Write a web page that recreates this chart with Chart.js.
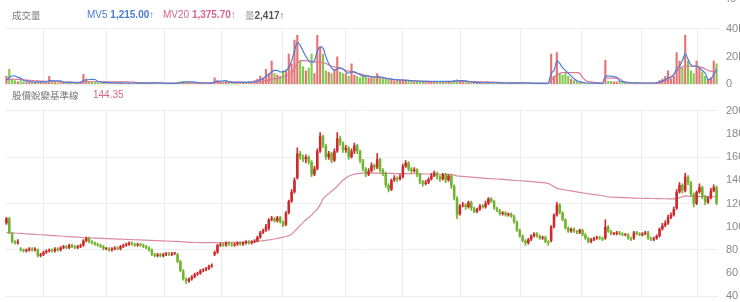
<!DOCTYPE html>
<html>
<head>
<meta charset="utf-8">
<script src="https://cdn.jsdelivr.net/npm/chart.js@4.4.1/dist/chart.umd.min.js"></script>
<style>
  body { margin: 0; background: #fff; width: 740px; height: 302px; overflow: hidden; position: relative;
         font-family: "Liberation Sans", "Noto Sans CJK TC", sans-serif; }
  .t { position: absolute; font-size: 10px; white-space: nowrap; line-height: 12px; z-index: 2; }
  .cjk { font-family: "Noto Sans CJK TC", sans-serif; font-size: 9.5px; }
  #volWrap { position: absolute; left: 0; top: 14px; width: 740px; height: 85px; }
  #priceWrap { position: absolute; left: 0; top: 96px; width: 740px; height: 215px; }
</style>
</head>
<body>
<div class="t" style="left:724px;top:-8px;color:#8a8a8a;font-size:11px">40</div>
<div class="t cjk" style="left:12px;top:9px;color:#777">成交量</div>
<div class="t" style="left:87px;top:9px;color:#4a7bd4">MV5 <b>1,215.00</b>↑</div>
<div class="t" style="left:163px;top:9px;color:#d4678a">MV20 <b>1,375.70</b>↑</div>
<div class="t" style="left:245px;top:9px;color:#555"><span class="cjk" style="color:#999">量</span><b>2,417</b>↑</div>
<div class="t cjk" style="left:12px;top:89px;color:#777">股價蛻變基準線</div>
<div class="t" style="left:93px;top:89px;color:#d4678a">144.35</div>

<div id="volWrap"><canvas id="vol"></canvas></div>
<div id="priceWrap"><canvas id="price"></canvas></div>

<script>
// daily candles, oldest first
const opens = [
  103,107,94,87,86,81,80,79,80,81, 80,80,75,76,78,79,80,79,81,80,
  82,83,82,84,83,82,83,84,88,90, 87,86,85,84,83,81,81,80,81,82,
  81,83,84,85,86,85,84,85,84,83, 82,80,76,75,76,75,76,77,76,77,
  76,70,62,55,53,55,57,59,60,62, 63,64,66,76,78,84,85,84,86,85,
  84,85,86,85,86,87,86,87,88,91, 95,97,99,106,107,105,108,104,102,112,
  122,130,142,163,160,158,160,156,145,150, 165,178,170,160,163,157,165,176,172,166,
  168,160,165,170,165,157,150,145,148,153, 151,158,149,146,136,132,140,142,141,143,
  152,155,150,148,149,145,139,137,138,141, 144,146,143,141,145,140,144,135,125,111,
  118,119,117,121,116,113,115,118,117,120, 124,122,116,114,111,112,110,111,109,104,
  97,92,88,86,89,92,94,92,90,91, 87,88,100,110,119,112,106,99,96,98,
  96,95,97,93,90,87,89,90,91,90, 90,100,96,94,94,95,94,93,93,90,
  90,95,94,93,94,95,90,89,90,92, 98,101,103,108,110,116,130,136,131,143,
  138,128,120,130,134,126,121,125,131,134
];
const closes = [
  107,95,87,86,87,80,79,80,81,80, 81,75,76,78,79,80,79,81,80,82,
  83,82,84,83,82,83,84,88,90,87, 86,85,84,83,81,81,80,81,82,81,
  83,84,85,86,85,84,85,84,83,82, 80,76,75,76,75,76,77,76,77,77,
  70,62,55,53,55,57,59,60,62,63, 64,66,67,78,84,85,84,86,85,84,
  85,86,85,86,87,86,87,88,91,95, 97,100,106,107,105,108,104,101,112,122,
  130,140,163,160,158,160,156,145,150,165, 178,170,160,163,157,165,176,172,166,168,
  160,165,170,165,157,150,145,148,153,151, 158,149,146,136,132,140,142,141,143,152,
  155,150,148,149,145,139,137,138,141,144, 146,143,141,145,140,144,135,125,110,118,
  119,117,121,116,113,115,118,117,120,124, 122,116,114,111,112,110,111,109,104,97,
  92,88,86,89,92,94,92,90,91,87, 86,100,110,119,112,106,99,96,98,96,
  95,97,93,90,87,89,90,91,90,89, 100,96,94,94,95,94,93,93,90,89,
  95,94,93,94,95,90,89,90,92,98, 101,103,108,110,115,130,136,131,143,138,
  128,120,130,134,126,121,125,131,134,120
];
const highs = [
  108,108,95,88,89,82,81,81,82,82, 82,81,77,79,80,81,81,82,82,83,
  84,84,85,85,84,84,85,89,91,91, 88,87,86,85,84,82,82,82,83,83,
  84,85,86,87,87,86,86,86,85,84, 83,81,77,77,77,77,78,78,78,78,
  77,71,63,56,56,58,60,61,63,64, 65,67,68,79,85,86,86,87,87,86,
  86,87,87,87,88,88,88,89,92,96, 98,102,107,109,108,109,109,105,113,123,
  132,142,168,165,162,162,161,157,152,167, 181,179,171,165,164,167,181,178,173,170,
  169,167,172,171,166,158,151,150,155,154, 163,159,150,147,137,141,144,143,145,154,
  157,156,151,151,150,146,140,140,142,146, 148,147,144,146,146,145,145,136,126,119,
  121,120,122,122,117,116,119,119,122,125, 125,123,117,115,113,113,112,112,110,105,
  98,93,89,90,93,95,95,93,92,92, 88,101,111,121,120,113,107,100,99,99,
  97,98,98,94,91,90,91,92,92,91, 106,101,97,95,96,96,95,94,94,91,
  96,96,95,95,96,96,91,91,93,99, 103,105,110,112,117,132,138,137,146,144,
  139,129,131,137,135,127,126,133,136,135
];
const lows = [
  102,94,86,85,85,79,78,78,79,79, 79,74,74,75,77,78,78,78,79,79,
  81,81,81,82,81,81,82,83,87,86, 85,84,83,82,80,80,79,79,80,80,
  80,82,83,84,84,83,83,83,82,81, 79,75,74,74,74,74,75,75,75,76,
  69,61,54,51,52,54,56,58,59,61, 62,63,65,75,77,83,83,83,84,83,
  83,84,84,84,85,85,85,86,87,90, 94,96,97,105,104,104,103,100,101,111,
  121,129,141,158,156,155,154,143,144,149, 164,168,158,158,155,156,164,170,164,164,
  158,159,163,163,155,148,143,144,147,149, 150,147,144,134,130,131,139,139,140,142,
  151,148,146,147,143,137,135,136,137,140, 143,141,139,140,138,139,133,123,107,110,
  117,115,116,114,112,112,114,116,116,119, 121,115,113,110,110,109,109,108,103,96,
  91,87,84,85,88,91,91,89,89,86, 84,87,99,109,111,105,98,95,95,95,
  94,94,92,89,86,86,88,89,89,88, 89,95,93,93,93,93,92,92,89,88,
  89,93,92,92,93,89,88,88,89,91, 97,100,102,107,109,115,129,129,130,136,
  126,117,119,129,124,119,120,124,130,119
];
// 股價蛻變基準線
const baseLine = [
  95.0,94.9,94.7,94.5,94.4,94.2,94.0,93.9,93.7,93.6, 93.4,93.2,93.1,92.9,92.8,92.6,92.4,92.3,92.1,92.0,
  91.8,91.6,91.5,91.3,91.2,91.0,90.8,90.7,90.5,90.4, 90.3,90.2,90.1,90.0,89.9,89.8,89.7,89.6,89.5,89.4,
  89.3,89.2,89.1,89.0,88.9,88.8,88.7,88.6,88.5,88.4, 88.3,88.2,88.1,88.0,87.9,87.8,87.7,87.6,87.5,87.4,
  87.3,87.2,87.0,86.8,86.6,86.5,86.4,86.4,86.3,86.3, 86.3,86.3,86.3,86.3,86.4,86.4,86.4,86.4,86.5,86.5,
  86.5,86.5,86.6,86.6,86.7,86.8,86.9,87.1,87.4,87.7, 88.0,88.3,88.6,89.0,89.4,89.9,90.4,91.0,91.6,92.3,
  93.5,96.0,98.5,101.0,103.5,106.0,108.0,110.0,113.0,115.0, 119.0,124.0,126.5,128.5,130.5,132.5,135.0,137.5,140.0,142.0,
  143.5,144.5,145.3,145.8,146.0,146.1,146.2,146.2,146.2,146.1, 146.1,146.0,146.0,146.0,145.9,145.9,145.8,145.8,145.8,145.7,
  145.7,145.7,145.6,145.6,145.5,145.5,145.5,145.4,145.4,145.3, 145.3,145.3,145.2,145.2,145.2,145.1,145.0,144.5,143.8,143.5,
  143.3,143.1,142.9,142.7,142.5,142.3,142.1,141.9,141.7,141.5, 141.3,141.2,141.1,141.0,140.8,140.6,140.4,140.2,140.0,139.8,
  139.6,139.4,139.2,139.0,138.8,138.6,138.4,138.2,138.0,137.7, 137.3,136.0,134.5,133.0,132.5,132.0,131.6,131.2,130.8,130.4,
  130.0,129.6,129.2,128.8,128.4,128.0,127.7,127.4,127.1,126.9, 126.0,125.6,125.5,125.4,125.3,125.2,125.1,125.0,124.9,124.8,
  124.7,124.6,124.5,124.5,124.4,124.4,124.3,124.3,124.2,124.2, 124.1,124.1,124.0,124.0,124.0,124.0,125.0,126.0,126.5,126.3,
  126.2,126.1,126.0,126.0,126.0,125.9,125.9,125.8,125.8,125.8
];
// volume in thousands
const volumes = [
  6,11,4,3,2,3,2,2,1.5,1.5, 1.5,2.5,2,1.5,1.5,6,2,1.5,1.5,1.5,
  1.5,1.2,1.5,1.2,1.2,1.5,2,7.5,4,2.5, 2,1.5,1.5,1.2,1.5,1.2,1,1,1.2,1,
  1,1,1.2,1,1,0.8,0.8,1,0.8,1, 1.2,1.5,1,0.8,0.8,0.8,0.8,0.8,0.8,1,
  1.5,2,2.5,2,1.5,1.2,1,1,1,1, 1,1,1.2,5,3,2,1.5,2,1.5,1.2,
  1.2,1.5,1.2,1.5,1.5,2,1.5,3,4,6, 5,11,8,17,8,7,6,10,10,22,
  15,32,35.5,17,13,10,12,22,8,35.5, 27,22,10,9,8,11,20,9,8,8,
  6,15,7,6,5,7,6,5,6,5, 8,5,4,4,3.5,4,3,3,3,3.5,
  3,2.5,2.5,2,2.5,2,2,2.5,2,2, 2,2.5,2,2.5,2,2,2.5,3,3.5,2.5,
  2,1.5,1.5,1.2,1.2,1.5,1.2,1,1.2,1.5, 1.2,1,1,1,1,0.8,0.8,1,1.2,1.5,
  1,1,0.8,0.8,0.8,0.8,0.8,0.8,0.8,1, 1,22,6,23,8,7,8,6,4,3,
  2,1.5,1.2,1,1,0.8,0.8,0.8,0.8,1, 17.5,2.5,2.5,2,2,2.5,1.5,1.2,1,1,
  1.2,1,1,1,1,1,0.8,1,1.5,3, 4,6,10,4,6,23,17,12,35.5,17,
  10,8,17,12,9,6,4,5,17,15
];
const mv5 = [
  3,5,6,6,5,4.5,3,2.5,2,1.8, 1.7,1.8,1.8,1.8,1.8,2.7,2.6,2.6,2.6,2.5,
  1.6,1.5,1.5,1.4,1.3,1.3,1.5,2.7,3.2,3.5, 3.6,3.5,2.3,1.8,1.5,1.4,1.3,1.2,1.2,1.1,
  1.1,1.0,1.0,1.0,1.0,1.0,0.9,0.9,0.9,0.9, 1.0,1.1,1.1,1.1,1.1,1.0,0.8,0.8,0.8,0.8,
  1.0,1.2,1.6,1.8,1.9,1.8,1.6,1.3,1.1,1.0, 1.0,1.0,1.0,1.8,2.2,2.4,2.5,2.7,2.0,1.6,
  1.5,1.5,1.4,1.4,1.4,1.6,1.6,1.9,2.5,3.4, 4,6,7,9,10,10,9,9,10,12,
  17,24,30,28,24,20,17,16,17,24, 27,26,20,15,12,10,11,12,11,9,
  8,9,9,8,7,6,6,6,5.5,5.5, 5.5,5.5,5,4.5,4,3.8,3.5,3.3,3.2,3.1,
  3.0,2.9,2.7,2.5,2.4,2.3,2.2,2.2,2.2,2.1, 2.1,2.1,2.1,2.2,2.2,2.2,2.2,2.4,2.6,2.7,
  2.7,2.5,2.2,1.7,1.4,1.4,1.3,1.2,1.2,1.3, 1.2,1.2,1.2,1.1,1.0,1.0,0.9,0.9,0.9,1.1,
  1.1,1.1,1.1,1.0,0.9,0.8,0.8,0.8,0.8,0.8, 0.9,8,10,17,15,12,10,8,6,4,
  2.5,2,1.5,1.2,1,1,0.9,0.9,0.8,0.8, 6,6,6,5.5,5,2.5,2,1.6,1.4,1.2,
  1.2,1.1,1.0,1.0,1.0,1.0,1.0,1.0,1.1,1.6, 2.5,3.5,4.5,5.5,7,11,13,17,22,18,
  14,13,13,12,10,8,3.5,4,7,11
];
const mv20 = [
  3.5,3.6,3.7,3.7,3.6,3.5,3.3,3.1,2.9,2.8, 2.6,2.5,2.4,2.3,2.2,2.3,2.3,2.2,2.1,2.0,
  1.8,1.6,1.6,1.6,1.5,1.5,1.5,1.8,1.9,1.9, 1.9,1.9,1.9,1.9,1.9,1.9,1.8,1.8,1.8,1.8,
  1.8,1.8,1.8,1.7,1.7,1.5,1.3,1.3,1.2,1.1, 1.0,1.0,1.0,1.0,1.0,1.0,1.0,1.0,0.9,0.9,
  1.0,1.0,1.1,1.2,1.2,1.2,1.2,1.2,1.2,1.2, 1.2,1.2,1.2,1.4,1.5,1.5,1.6,1.6,1.6,1.6,
  1.6,1.6,1.6,1.6,1.5,1.6,1.6,1.7,1.8,2.0, 2.2,2.6,3,3.6,4,4.4,4.8,5.5,6,7,
  8,11,15,17,17,17,16.5,16.5,16,16, 16,15.5,15,14,13,12.5,12,11.5,11,10,
  9.5,9,8.5,8,7.5,7,6.5,6,5.5,5.2, 5,4.7,4.4,4.2,4,3.8,3.5,3.3,3.1,3.0,
  2.9,2.8,2.7,2.6,2.5,2.4,2.3,2.2,2.1,2.0, 2.0,2.0,2.0,2.0,2.0,2.0,2.0,2.0,2.1,2.1,
  2.1,2.1,2.0,2.0,2.0,1.9,1.9,1.8,1.8,1.7, 1.7,1.6,1.5,1.4,1.3,1.2,1.2,1.1,1.1,1.1,
  1.1,1.0,1.0,1.0,1.0,1.0,1.0,1.0,1.0,1.0, 1.0,3,5,7,8,8.5,8.5,8.5,8.5,8.5,
  8.5,8,5,3,2,1.8,1.5,1.3,1.2,1.1, 4.5,4.5,4.5,4.5,4.3,4,2.5,1.5,1.2,1.0,
  1.0,1.0,1.0,1.0,1.0,1.0,1.0,1.0,1.2,1.5, 2,2.5,3.5,5,7,9,11,12.5,13,13,
  13,13,13,12.5,12,11,10,9.5,9,8.5
];
// month boundaries (candle index) for the vertical grid
const monthTicks = [2, 24, 46, 65, 85.5, 108, 129.5, 148.5, 170, 190.5, 213, 232.5];
const volTicks = [0, 20, 40];
const priceTicks = [40, 60, 80, 100, 120, 140, 160, 180, 200];

const N = closes.length;
const idx = closes.map((_, i) => i);
const UP = '#cc2a2d', DOWN = '#72b330';
const candleColor = idx.map(i => closes[i] >= opens[i] ? UP : DOWN);
const volColor = idx.map(i => closes[i] >= opens[i] ? 'rgba(222,80,80,0.8)' : 'rgba(110,190,50,0.85)');

function xScale() {
  return {
    type: 'linear', min: -0.5, max: N - 0.5, offset: false,
    afterBuildTicks: s => { s.ticks = monthTicks.map(v => ({ value: v })); },
    afterFit: s => { s.height = 0; },
    ticks: { display: false, autoSkip: false, padding: 0 },
    grid: { color: '#ececec', drawTicks: false },
    border: { display: false }
  };
}
function yScale(list, fmt, gridEvery) {
  return {
    position: 'right', min: list[0], max: list[list.length - 1],
    afterBuildTicks: s => { s.ticks = list.map(v => ({ value: v })); },
    afterFit: s => { s.width = 22; },
    ticks: { padding: 8, color: '#8a8a8a', autoSkip: false,
             font: { size: 11, family: 'Liberation Sans' }, callback: fmt },
    grid: { drawTicks: false,
            color: c => (c.tick && c.tick.value % gridEvery === 0) ? '#eeeeee' : 'rgba(0,0,0,0)' },
    border: { display: false }
  };
}
const common = {
  responsive: true, maintainAspectRatio: false, animation: false,
  plugins: { legend: { display: false }, tooltip: { enabled: false } }
};

new Chart(document.getElementById('vol'), {
  data: {
    datasets: [
      { type: 'line', data: idx.map(i => ({ x: i, y: mv5[i] })), borderColor: '#4a7fd8',
        borderWidth: 1.2, pointRadius: 0, tension: 0.3, order: 1 },
      { type: 'line', data: idx.map(i => ({ x: i, y: mv20[i] })), borderColor: '#dc7896',
        borderWidth: 1.2, pointRadius: 0, tension: 0.3, order: 2 },
      { type: 'bar', data: idx.map(i => ({ x: i, y: volumes[i] })), backgroundColor: volColor,
        barPercentage: 0.75, categoryPercentage: 1, order: 3 }
    ]
  },
  options: Object.assign({}, common, {
    layout: { padding: { left: 5, top: 0, bottom: 0, right: 0 } },
    scales: { x: xScale(), y: yScale(volTicks, v => v === 0 ? '0' : v + 'k', 40) }
  })
});

new Chart(document.getElementById('price'), {
  data: {
    datasets: [
      { type: 'line', data: idx.map(i => ({ x: i, y: baseLine[i] })), borderColor: '#d98aa2',
        borderWidth: 1.2, pointRadius: 0, order: 3 },
      { type: 'bar', data: idx.map(i => ({ x: i, y: [lows[i], highs[i]] })), backgroundColor: candleColor,
        barThickness: 1, grouped: false, order: 2 },
      { type: 'bar', data: idx.map(i => ({ x: i, y: [Math.min(opens[i], closes[i]), Math.max(opens[i], closes[i])] })),
        backgroundColor: candleColor, barPercentage: 0.9, categoryPercentage: 1, grouped: false,
        minBarLength: 1, order: 1 }
    ]
  },
  options: Object.assign({}, common, {
    layout: { padding: { left: 5, top: 0, bottom: 0, right: 0 } },
    scales: { x: xScale(), y: yScale(priceTicks, v => v, 40) }
  })
});
</script>
</body>
</html>
